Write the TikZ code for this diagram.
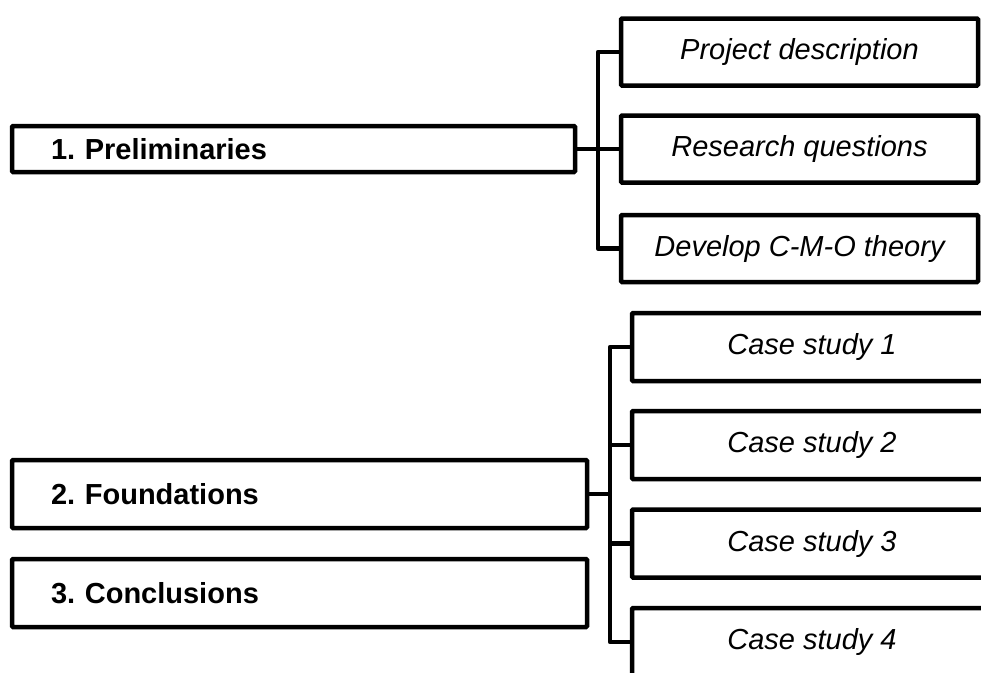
\documentclass[tikz,border=0pt]{standalone}
\usepackage{fontspec}
\setmainfont{Liberation Sans}
\frenchspacing
\begin{document}
\begin{tikzpicture}[x=1pt,y=-1pt,
  box/.style={draw=black, line width=4.5pt, rounded corners=1pt, inner sep=0pt, font=\fontsize{29}{33}\selectfont},
  leftbox/.style={box, font=\fontsize{29}{33}\selectfont\bfseries, align=left, inner xsep=39pt},
  itbox/.style={box, font=\fontsize{29}{33}\selectfont\itshape, align=center},
  link/.style={draw=black, line width=4.5pt, line join=round}]
\useasboundingbox (0,0) rectangle (981,672);
\clip (0,0) rectangle (981,672);
% left boxes
\node[leftbox, text width=485pt, minimum height=46pt] (prelim) at (293.5,149) {1. Preliminaries};
\node[leftbox, text width=497pt, minimum height=68pt] (found) at (299.5,494) {2. Foundations};
\node[leftbox, text width=497pt, minimum height=68pt] (concl) at (299.5,593) {3. Conclusions};
% upper right boxes
\node[itbox, minimum width=357pt, minimum height=67pt] (pd) at (799.5,52) {Project description};
\node[itbox, minimum width=357pt, minimum height=67pt] (rq) at (799.5,149) {Research questions};
\node[itbox, minimum width=357pt, minimum height=67pt] (dv) at (799.5,248.5) {Develop C-M-O theory};
% lower right boxes
\node[itbox, minimum width=360pt, minimum height=68pt] (c1) at (812,347) {Case study 1};
\node[itbox, minimum width=360pt, minimum height=68pt] (c2) at (812,445) {Case study 2};
\node[itbox, minimum width=360pt, minimum height=68pt] (c3) at (812,543.5) {Case study 3};
\node[itbox, minimum width=360pt, minimum height=68pt] (c4) at (812,642) {Case study 4};
% junctions
\coordinate (j1) at (598,149);
\coordinate (j2) at (610,494);
\draw[link] (prelim.east) -- (j1);
\draw[link] (pd.west) -| (j1) |- (dv.west);
\draw[link] (rq.west) -- (j1);
\draw[link] (found.east) -- (j2);
\draw[link] (c1.west) -| (j2) |- (c4.west);
\draw[link] (c2.west) -- (c2.west -| j2);
\draw[link] (c3.west) -- (c3.west -| j2);
\end{tikzpicture}
\end{document}
